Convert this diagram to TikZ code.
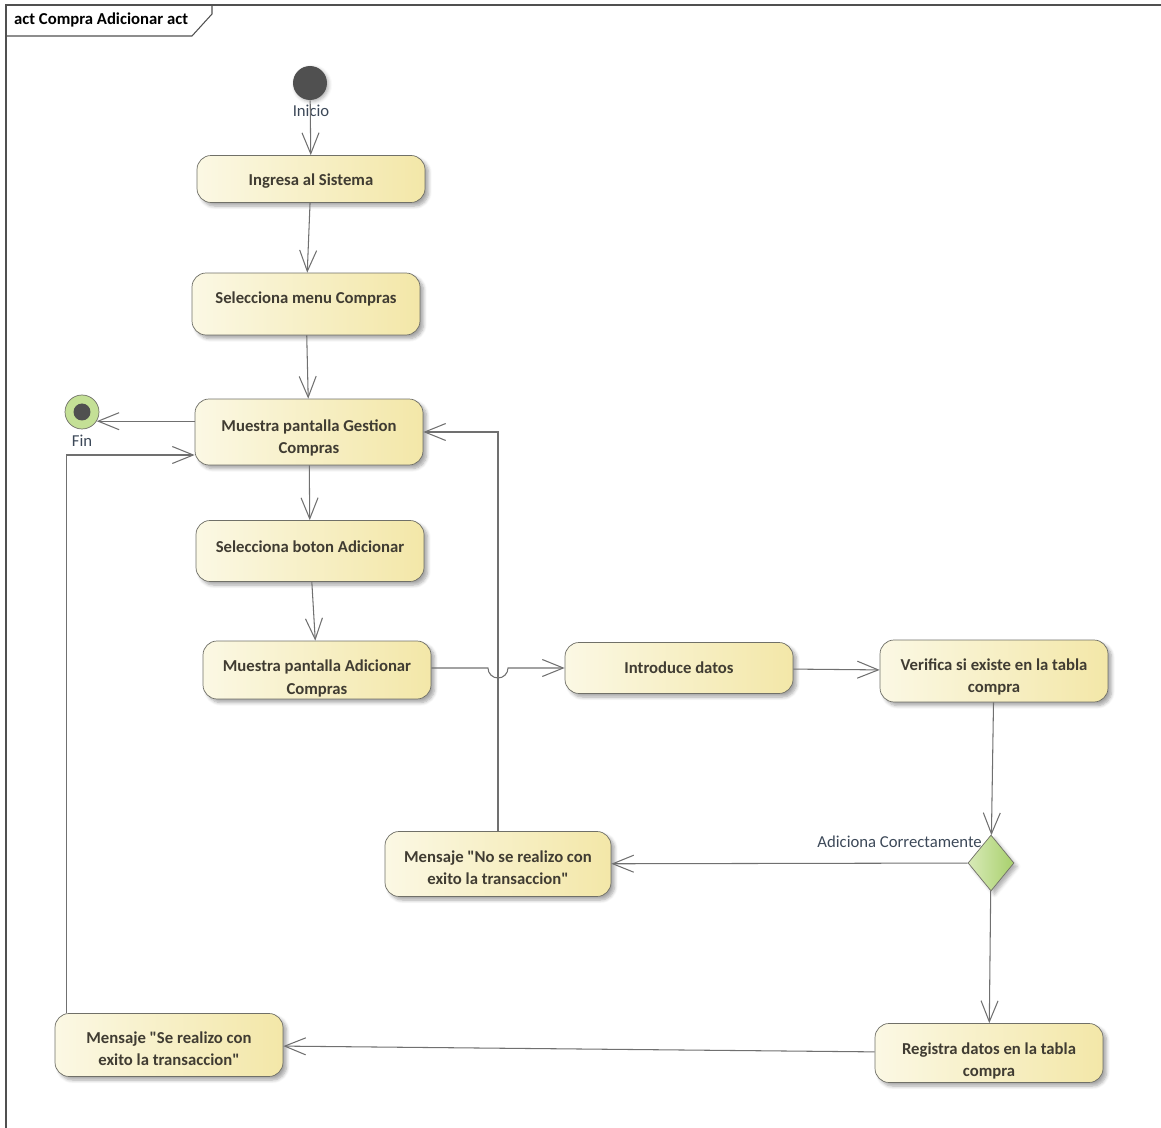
\documentclass[tikz,border=0pt]{standalone}
\usepackage{fontspec}
\setmainfont{Carlito}
\usetikzlibrary{arrows.meta,shapes.geometric,shadows.blur,calc}

\definecolor{boxleft}{RGB}{251,248,228}
\definecolor{boxright}{RGB}{243,231,168}
\definecolor{boxline}{RGB}{112,112,104}
\definecolor{flowline}{RGB}{112,112,112}
\definecolor{boxtext}{RGB}{64,60,50}
\definecolor{labeltext}{RGB}{60,72,88}
\definecolor{startgray}{RGB}{80,80,80}
\definecolor{fingreen}{RGB}{196,224,150}
\definecolor{greenleft}{RGB}{216,234,184}
\definecolor{greenright}{RGB}{168,208,108}

\tikzset{
  action/.style={draw=boxline, rounded corners=0.28cm, left color=boxleft, right color=boxright,
    minimum width=4.56cm, inner ysep=1pt, align=center, text=boxtext, font=\fontsize{9.5}{12.7}\selectfont\bfseries,
    blur shadow={shadow xshift=2pt, shadow yshift=-2pt, shadow blur steps=6, shadow opacity=35}},
  flow/.style={draw=flowline, line width=0.6pt, -{Straight Barb[length=0.42cm,width=0.34cm]}},
  lbl/.style={text=labeltext, font=\fontsize{9.5}{12}\selectfont},
}
\newcommand{\dq}{\textquotedbl}

\begin{document}
\begin{tikzpicture}[x=0.02cm, y=-0.02cm]

\useasboundingbox (0,0) rectangle (1161,1128);

% Draw the frame and its title tab
\draw[startgray, line width=0.6pt] (6,1128) -- (6,5) -- (1161,5);
\draw[startgray, line width=0.6pt] (6,36) -- (192,36) -- (212,14) -- (212,5);
\node[anchor=west, text=black, font=\fontsize{9.5}{12}\selectfont\bfseries] (title) at (8,20) {act Compra Adicionar act};

% Start and end points
\node[circle, fill=startgray, minimum size=0.68cm, inner sep=0pt,
  blur shadow={shadow xshift=1pt, shadow yshift=-1pt, shadow opacity=30}] (inicio) at (310,83) {};
\node[lbl] (inicio lbl) at (311,111) {Inicio};
\node[circle, draw=boxline, fill=fingreen, minimum size=0.68cm, inner sep=0pt] (fin) at (82,412) {};
\fill[startgray] (fin) circle (0.17cm);
\node[lbl] (fin lbl) at (82,441) {Fin};

% The actions
\node[action, minimum height=0.94cm, text height=9.3pt] (ingresa) at (311,179) {Ingresa al Sistema};
\node[action, minimum height=1.24cm, text depth=7.5pt] (menu) at (306,304) {Selecciona menu Compras};
\node[action, minimum height=1.32cm, text height=26pt] (gestion) at (309,432) {Muestra pantalla Gestion\\Compras};
\node[action, minimum height=1.22cm, text depth=4.6pt] (boton) at (310,551) {Selecciona boton Adicionar};
\node[action, minimum height=1.16cm, text height=29pt] (adic) at (317,670) {Muestra pantalla Adicionar\\Compras};
\node[action, minimum height=1.02cm] (intro) at (679,668) {Introduce datos};
\node[action, minimum height=1.24cm, text height=26pt] (verif) at (994,671) {Verifica si existe en la tabla\\compra};
\node[action, minimum height=1.30cm, minimum width=4.52cm, text height=23.8pt] (nomsg) at (498,864) {Mensaje \dq No se realizo con\\exito la transaccion\dq};
\node[action, minimum height=1.18cm, text height=28.4pt] (reg) at (989,1053) {Registra datos en la tabla\\compra};
\node[action, minimum height=1.26cm, text height=23.8pt] (simsg) at (169,1045) {Mensaje \dq Se realizo con\\exito la transaccion\dq};

% The decision
\node[diamond, draw=boxline, left color=greenleft, right color=greenright, minimum width=0.92cm,
  minimum height=1.12cm, inner sep=0pt,
  blur shadow={shadow xshift=2pt, shadow yshift=-2pt, shadow opacity=30}] (dec) at (991,863) {};
\node[lbl, anchor=east] (dec lbl) at (988,842) {Adiciona Correctamente};

% Control flows
\draw[flow] (inicio) -- (ingresa);
\draw[flow] (ingresa) -- (menu);
\draw[flow] (menu) -- (gestion);
\draw[flow] (gestion.west |- fin.-32) -- (fin.-32);
\draw[flow] (gestion) -- (boton);
\draw[flow] (boton) -- (adic);
\draw[flow] (adic.east |- intro.west) -- ($(nomsg.north |- intro.west)+(-10,0)$) arc[start angle=180, end angle=360, radius=0.2cm] -- (intro.west);
\draw[flow] (intro) -- (verif);
\draw[flow] (verif) -- (dec);
\draw[flow] (dec) -- (nomsg);
\draw[flow] (nomsg.north) |- (gestion.east);
\draw[flow] (dec) -- (reg);
\draw[flow] (reg) -- (simsg);
\draw[flow] ($(simsg.north west)+(12,0)$) |- ([yshift=-0.46cm]gestion.west);

\end{tikzpicture}
\end{document}
